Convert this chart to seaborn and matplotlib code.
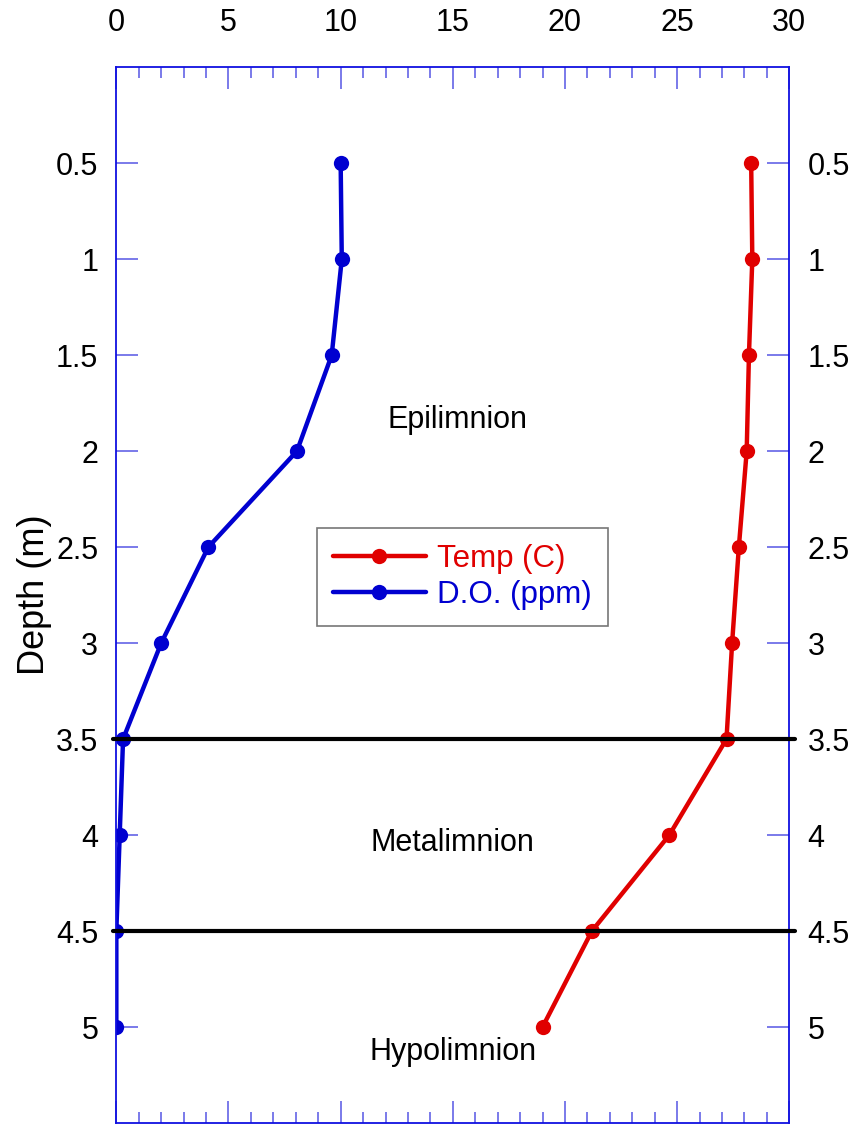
import matplotlib
matplotlib.use("Agg")
import matplotlib.pyplot as plt
import seaborn as sns
import pandas as pd
import numpy as np

depth = [0.5, 1.0, 1.5, 2.0, 2.5, 3.0, 3.5, 4.0, 4.5, 5.0]
temp_c = [28.3, 28.35, 28.2, 28.1, 27.75, 27.45, 27.2, 24.65, 21.2, 19.0]
do_ppm = [10.0, 10.05, 9.6, 8.05, 4.1, 2.0, 0.3, 0.15, 0.0, 0.0]
series_names = ["Temp (C)", "D.O. (ppm)"]
layer_lines = [3.5, 4.5]
layer_labels = ["Epilimnion", "Metalimnion", "Hypolimnion"]
layer_label_pos = [(15.2, 1.84), (15.0, 4.04), (15.0, 5.13)]
x_ticks = [0, 5, 10, 15, 20, 25, 30]
y_ticks = [0.5, 1, 1.5, 2, 2.5, 3, 3.5, 4, 4.5, 5]

sns.set_theme(style="white")
plt.rcParams["font.family"] = ["Liberation Sans", "DejaVu Sans"]

df = pd.DataFrame({
    "depth": depth * 2,
    "value": temp_c + do_ppm,
    "series": [series_names[0]] * len(depth) + [series_names[1]] * len(depth),
})

RED = "#e00000"
BLUE = "#0000d0"
SPINE = "#1010e0"
TICK = "#6f6fe8"
FS = 22

fig = plt.figure(figsize=(8.56, 11.25), dpi=100)
ax = fig.add_axes([0.1359, 0.0018, 0.7862, 0.9384])

sns.lineplot(data=df, x="value", y="depth", hue="series", hue_order=series_names,
             palette=[RED, BLUE], sort=False, estimator=None, marker="o",
             markersize=11, markeredgewidth=0, linewidth=3.2, ax=ax)

for d in layer_lines:
    ax.plot([-0.15, 30.25], [d, d], color="black", linewidth=3, clip_on=False, zorder=5)

for lab, (x, y) in zip(layer_labels, layer_label_pos):
    ax.text(x, y, lab, fontsize=FS, ha="center", va="center", color="black")

ax.set_xlim(0, 30)
ax.set_ylim(5.5, 0)
ax.set_xticks(x_ticks)
ax.set_xticklabels([str(t) for t in x_ticks])
ax.set_xticks(np.arange(0, 31, 1), minor=True)
ax.set_yticks(y_ticks)
ax.set_yticklabels([f"{t:g}" for t in y_ticks])

ax.xaxis.set_ticks_position("both")
ax.yaxis.set_ticks_position("both")
ax.tick_params(axis="x", which="major", direction="in", length=16, width=1.3, color=TICK,
               top=True, bottom=True, labeltop=True, labelbottom=False, labelsize=FS,
               labelcolor="black", pad=21)
ax.tick_params(axis="x", which="minor", direction="in", length=8, width=1.3, color=TICK,
               top=True, bottom=True)
ax.tick_params(axis="y", which="major", direction="in", length=16, width=1.3, color=TICK,
               left=True, right=True, labelleft=True, labelright=True, labelsize=FS,
               labelcolor="black", pad=13)

for s in ax.spines.values():
    s.set_color(SPINE)
    s.set_linewidth(1.3)

ax.set_xlabel("")
ax.set_ylabel("Depth (m)", fontsize=26, labelpad=3, color="black")

handles, labels = ax.get_legend_handles_labels()
leg = ax.legend(handles, labels, loc="center", bbox_to_anchor=(0.514, 0.517),
                fontsize=22.5, frameon=True, fancybox=False, edgecolor="#555555",
                handlelength=3.0, handletextpad=0.35, borderpad=0.5, labelspacing=0.2,
                borderaxespad=0)
leg.get_frame().set_linewidth(1.2)
for t, c in zip(leg.get_texts(), [RED, BLUE]):
    t.set_color(c)

fig.savefig("out.png", dpi=100)
